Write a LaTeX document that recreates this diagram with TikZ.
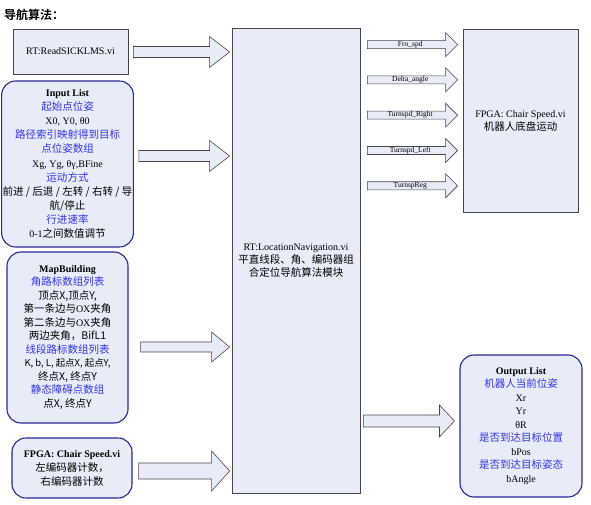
\documentclass[tikz,border=0pt]{standalone}
\usepackage{fontspec}
\setmainfont{Liberation Serif}
\newfontfamily\cjk{Noto Sans CJK SC}[Scale=1.05]
\newfontfamily\cjkbold{Noto Sans CJK SC Bold}
\usetikzlibrary{calc}
\definecolor{boxfill}{RGB}{232,236,248}
\definecolor{bluetext}{RGB}{51,51,230}
\definecolor{listline}{RGB}{40,40,150}
\definecolor{arrline}{RGB}{70,70,70}
\newcommand{\cj}[1]{{\cjk #1}}
\newcommand{\bl}[1]{\textcolor{bluetext}{\cjk #1}}
\tikzset{
  plainbox/.style={draw=arrline, line width=0.8pt, fill=boxfill, align=center,
    inner sep=2pt, font=\fontsize{10}{13}\selectfont},
  listbox/.style={draw=listline, line width=1.1pt, rounded corners=14pt, fill=boxfill,
    align=center, inner sep=1pt, minimum width=121pt, font=\fontsize{10}{13.5}\selectfont},
  bigarrow/.style n args={3}{fill=boxfill, draw=arrline, line width=0.6pt,
    to path={let \p1=(\tikztostart), \p2=(\tikztotarget) in
      (\x1,\y1+#1) -- (\x2-#3,\y1+#1) -- (\x2-#3,\y1+#2) -- (\x2,\y1)
      -- (\x2-#3,\y1-#2) -- (\x2-#3,\y1-#1) -- (\x1,\y1-#1) -- cycle}},
  shaftlabel/.style={font=\fontsize{7.5}{7.5}\selectfont, inner sep=0pt},
}

\begin{document}
\begin{tikzpicture}
  \begin{scope}[x=1pt, y=-1pt]
    \useasboundingbox (0,0) rectangle (591,505);
    \node[anchor=west, inner sep=0pt, font=\fontsize{12}{12}\selectfont] (title) at (4,15) {\cjkbold 导航算法：};

    % left column
    \node[plainbox, minimum width=115pt, minimum height=45pt] (read) at (70.5,51.5) {RT:ReadSICKLMS.vi};
    \node[listbox, minimum height=166pt, font=\fontsize{10}{14.1}\selectfont] (input) at (67.5,164) {%
      \textbf{Input List}\\
      \bl{起始点位姿}\\
      X0, Y0, θ0\\
      \bl{路径索引映射得到目标}\\
      \bl{点位姿数组}\\
      Xg, Yg, θγ,BFine\\
      \bl{运动方式}\\
      \cj{前进 / 后退 / 左转 / 右转 / 导}\\
      \cj{航/停止}\\
      \bl{行进速率}\\
      0-1\cj{之间数值调节}};
    \node[listbox, minimum height=171pt] (map) at (67.5,337.5) {%
      \textbf{MapBuilding}\\
      \bl{角路标数组列表}\\
      \cj{顶点X,顶点Y,}\\
      \cj{第一条边与}OX\cj{夹角}\\
      \cj{第二条边与}OX\cj{夹角}\\
      \cj{两边夹角，BifL1}\\
      \bl{线段路标数组列表}\\
      {\fontsize{9}{13.5}\selectfont\cj{K, b, L, 起点X, 起点Y,}}\\
      \cj{终点X, 终点Y}\\
      \bl{静态障碍点数组}\\
      \cj{点X, 终点Y}};
    \node[listbox, minimum width=120pt, minimum height=60pt, font=\fontsize{10}{14}\selectfont] (enc) at (72,468) {%
      \textbf{FPGA: Chair Speed.vi}\\
      \cj{左编码器计数，}\\
      \cj{右编码器计数}};

    % middle and right
    \node[plainbox, minimum width=128pt, minimum height=465pt] (nav) at (296,260.5) {%
      RT:LocationNavigation.vi\\
      \cj{平直线段、角、编码器组}\\
      \cj{合定位导航算法模块}};
    \node[plainbox, minimum width=115pt, minimum height=183pt] (fpga) at (520.5,120.5) {%
      FPGA: Chair Speed.vi\\
      \cj{机器人底盘运动}};
    \node[listbox, minimum width=122pt, minimum height=142pt] (out) at (521,426) {%
      \textbf{Output List}\\
      \bl{机器人当前位姿}\\
      Xr\\ Yr\\ θR\\
      \bl{是否到达目标位置}\\
      bPos\\
      \bl{是否到达目标姿态}\\
      bAngle};

    % block arrows into the navigation module
    \coordinate (rdA) at ($(read.east)+(5,0.5)$);
    \coordinate (inA) at ($(input.east)+(5,-8)$);
    \coordinate (mapA) at ($(map.east)+(12,9.5)$);
    \coordinate (encA) at ($(enc.east)+(6,3)$);
    \draw[bigarrow={5.5pt}{15.5pt}{20pt}] (rdA) to ($(nav.west |- rdA)+(-2,0)$);
    \draw[bigarrow={5.5pt}{15.5pt}{20pt}] (inA) to ($(nav.west |- inA)+(-2,0)$);
    \draw[bigarrow={5pt}{15pt}{18pt}] (mapA) to ($(nav.west |- mapA)+(-2,0)$);
    \draw[bigarrow={8pt}{20pt}{18pt}] (encA) to ($(nav.west |- encA)+(-2,0)$);

    % outputs to the chair
    \foreach \lab [count=\i] in {Fro\_spd, Delta\_angle, Turnspd\_Right, Turnspd\_Left, TurnspReg} {
      \coordinate (o\i) at ($(nav.north east)+(7,{17+(\i-1)*35.3})$);
      \draw[bigarrow={4pt}{12pt}{12pt}] (o\i) to ($(fpga.west |- o\i)+(-5,0)$);
      \node[shaftlabel] (l\i) at ($(o\i)!0.45!(fpga.west |- o\i)$) {\lab};
    }
    \coordinate (outA) at ($(nav.east |- out.west)+(3,-5)$);
    \draw[bigarrow={6pt}{16pt}{15pt}] (outA) to ($(out.west)+(-5,-5)$);
  \end{scope}
\end{tikzpicture}
\end{document}
